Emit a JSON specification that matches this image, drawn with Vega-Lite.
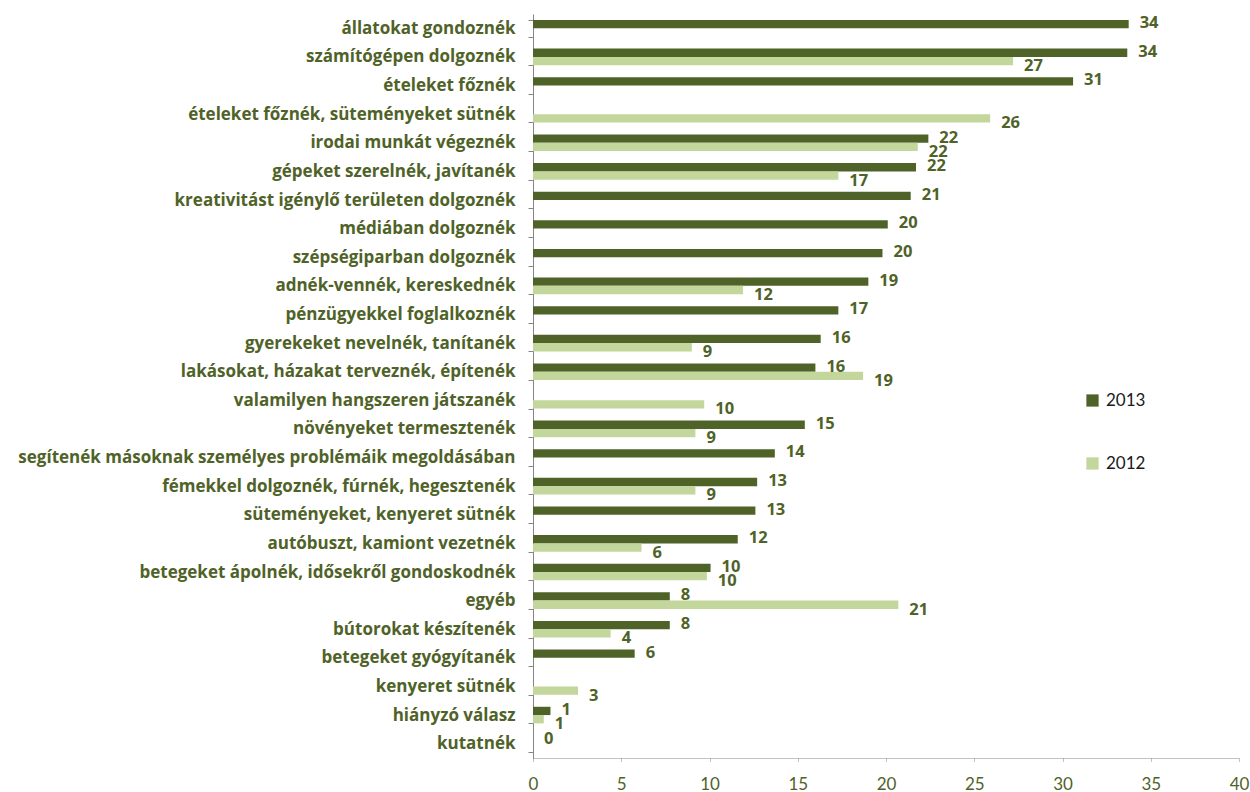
{
  "$schema": "https://vega.github.io/schema/vega-lite/v6.json",
  "width": 706,
  "height": 744,
  "autosize": {"type": "none"},
  "padding": {"left": 533, "top": 14, "right": 11, "bottom": 34},
  "background": "white",
  "config": {"view": {"stroke": null}, "font": "Open Sans"},
  "data": {
    "values": [
      {"kategoria": "állatokat gondoznék", "ev": "2013", "ertek": 33.75},
      {"kategoria": "számítógépen dolgoznék", "ev": "2013", "ertek": 33.67},
      {"kategoria": "számítógépen dolgoznék", "ev": "2012", "ertek": 27.2},
      {"kategoria": "ételeket főznék", "ev": "2013", "ertek": 30.6},
      {"kategoria": "ételeket főznék, süteményeket sütnék", "ev": "2012", "ertek": 25.9},
      {"kategoria": "irodai munkát végeznék", "ev": "2013", "ertek": 22.4},
      {"kategoria": "irodai munkát végeznék", "ev": "2012", "ertek": 21.8},
      {"kategoria": "gépeket szerelnék, javítanék", "ev": "2013", "ertek": 21.7},
      {"kategoria": "gépeket szerelnék, javítanék", "ev": "2012", "ertek": 17.3},
      {"kategoria": "kreativitást igénylő területen dolgoznék", "ev": "2013", "ertek": 21.4},
      {"kategoria": "médiában dolgoznék", "ev": "2013", "ertek": 20.1},
      {"kategoria": "szépségiparban dolgoznék", "ev": "2013", "ertek": 19.8},
      {"kategoria": "adnék-vennék, kereskednék", "ev": "2013", "ertek": 19.0},
      {"kategoria": "adnék-vennék, kereskednék", "ev": "2012", "ertek": 11.9},
      {"kategoria": "pénzügyekkel foglalkoznék", "ev": "2013", "ertek": 17.3},
      {"kategoria": "gyerekeket nevelnék, tanítanék", "ev": "2013", "ertek": 16.3},
      {"kategoria": "gyerekeket nevelnék, tanítanék", "ev": "2012", "ertek": 9.0},
      {"kategoria": "lakásokat, házakat terveznék, építenék", "ev": "2013", "ertek": 16.0},
      {"kategoria": "lakásokat, házakat terveznék, építenék", "ev": "2012", "ertek": 18.7},
      {"kategoria": "valamilyen hangszeren játszanék", "ev": "2012", "ertek": 9.7},
      {"kategoria": "növényeket termesztenék", "ev": "2013", "ertek": 15.4},
      {"kategoria": "növényeket termesztenék", "ev": "2012", "ertek": 9.2},
      {"kategoria": "segítenék másoknak személyes problémáik megoldásában", "ev": "2013", "ertek": 13.7},
      {"kategoria": "fémekkel dolgoznék, fúrnék, hegesztenék", "ev": "2013", "ertek": 12.7},
      {"kategoria": "fémekkel dolgoznék, fúrnék, hegesztenék", "ev": "2012", "ertek": 9.2},
      {"kategoria": "süteményeket, kenyeret sütnék", "ev": "2013", "ertek": 12.6},
      {"kategoria": "autóbuszt, kamiont vezetnék", "ev": "2013", "ertek": 11.6},
      {"kategoria": "autóbuszt, kamiont vezetnék", "ev": "2012", "ertek": 6.15},
      {"kategoria": "betegeket ápolnék, idősekről gondoskodnék", "ev": "2013", "ertek": 10.06},
      {"kategoria": "betegeket ápolnék, idősekről gondoskodnék", "ev": "2012", "ertek": 9.85},
      {"kategoria": "egyéb", "ev": "2013", "ertek": 7.75},
      {"kategoria": "egyéb", "ev": "2012", "ertek": 20.7},
      {"kategoria": "bútorokat készítenék", "ev": "2013", "ertek": 7.75},
      {"kategoria": "bútorokat készítenék", "ev": "2012", "ertek": 4.4},
      {"kategoria": "betegeket gyógyítanék", "ev": "2013", "ertek": 5.76},
      {"kategoria": "kenyeret sütnék", "ev": "2012", "ertek": 2.55},
      {"kategoria": "hiányzó válasz", "ev": "2013", "ertek": 0.99},
      {"kategoria": "hiányzó válasz", "ev": "2012", "ertek": 0.61},
      {"kategoria": "kutatnék", "ev": "2013", "ertek": 0}
    ]
  },
  "encoding": {
    "y": {
      "field": "kategoria",
      "type": "nominal",
      "sort": null,
      "title": null,
      "scale": {"paddingInner": 0.42, "paddingOuter": 0.21},
      "axis": {
        "domainColor": "#868686",
        "tickColor": "#868686",
        "tickSize": 5,
        "tickBand": "extent",
        "labelPadding": 13,
        "labelFont": "Open Sans",
        "labelFontSize": 17,
        "labelFontWeight": "bold",
        "labelColor": "#4f6228",
        "labelLimit": 600
      }
    },
    "yOffset": {"field": "ev", "type": "nominal", "sort": ["2013", "2012"]},
    "x": {
      "field": "ertek",
      "type": "quantitative",
      "title": null,
      "scale": {"domain": [0, 40], "nice": false},
      "axis": {
        "values": [0, 5, 10, 15, 20, 25, 30, 35, 40],
        "grid": false,
        "domainColor": "#868686",
        "domainDash": [1, 1],
        "tickColor": "#868686",
        "tickDash": [1, 1],
        "tickSize": 4,
        "labelPadding": 14,
        "labelFont": "Lato",
        "labelFontSize": 17,
        "labelColor": "#4f6228",
        "labelFlush": false
      }
    }
  },
  "layer": [
    {
      "mark": {"type": "bar"},
      "encoding": {
        "color": {
          "field": "ev",
          "type": "nominal",
          "scale": {"domain": ["2013", "2012"], "range": ["#4f6228", "#c3d69b"]},
          "legend": {
            "orient": "none",
            "legendX": 551,
            "legendY": 378,
            "title": null,
            "padding": 0,
            "symbolType": "square",
            "symbolSize": 150,
            "symbolStrokeWidth": 0,
            "rowPadding": 45,
            "labelFont": "Lato",
            "labelFontSize": 17,
            "labelColor": "#1a1a1a",
            "labelOffset": 5
          }
        }
      }
    },
    {
      "transform": [{"filter": "datum.ev === '2013'"}],
      "mark": {
        "type": "text",
        "align": "left",
        "baseline": "middle",
        "dx": 11,
        "dy": -1,
        "font": "Open Sans",
        "fontWeight": "bold",
        "fontSize": 16.5,
        "color": "#4f6228"
      },
      "encoding": {
        "text": {"field": "ertek", "type": "quantitative", "format": ".0f"}
      }
    },
    {
      "transform": [{"filter": "datum.ev === '2012'"}],
      "mark": {
        "type": "text",
        "align": "left",
        "baseline": "middle",
        "dx": 11,
        "dy": 5,
        "font": "Open Sans",
        "fontWeight": "bold",
        "fontSize": 16.5,
        "color": "#4f6228"
      },
      "encoding": {
        "text": {"field": "ertek", "type": "quantitative", "format": ".0f"}
      }
    }
  ]
}
